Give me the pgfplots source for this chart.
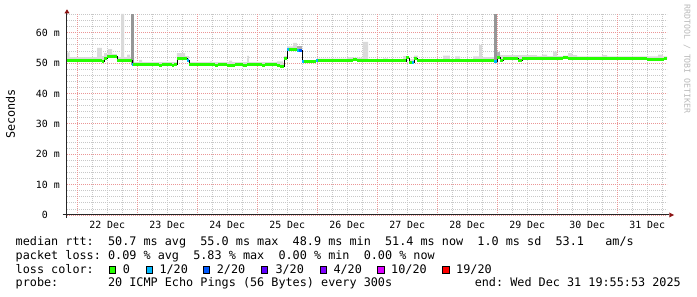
\documentclass[border=0pt]{standalone}
\usepackage{pgfplots}
\pgfplotsset{compat=1.18}
\usepackage{pgfplotstable}
\usepgfplotslibrary{fillbetween}
\usepackage{fontspec}
\setmainfont{DejaVu Sans Mono}
\newcommand\lf{\fontsize{11.8pt}{13pt}\selectfont}
\newcommand\tf{\fontsize{9.9pt}{11pt}\selectfont}
\newcommand\wf{\fontsize{8.25pt}{9pt}\selectfont}
\definecolor{lgreen}{HTML}{26FF00}
\definecolor{l1}{HTML}{00B8FF}
\definecolor{l2}{HTML}{0059FF}
\definecolor{l3}{HTML}{5E00FF}
\definecolor{l4}{HTML}{7E00FF}
\definecolor{l10}{HTML}{DD00FF}
\definecolor{l19}{HTML}{FF0000}
\definecolor{smoke}{RGB}{218,218,218}
\definecolor{msmoke}{RGB}{175,175,175}
\definecolor{dsmoke}{RGB}{150,150,150}
\definecolor{gridc}{RGB}{200,200,200}
\definecolor{mgridc}{RGB}{235,150,150}
\definecolor{arrowred}{RGB}{140,20,20}
\definecolor{wmark}{RGB}{185,185,185}

\pgfplotstableread{
x y
-0.170 50.9
0.413 50.6
0.447 51.4
0.497 52.1
0.663 51.0
0.913 49.6
0.930 49.5
1.363 49.2
1.413 49.5
1.580 49.2
1.613 49.5
1.663 51.5
1.830 51.0
1.863 49.5
2.297 49.2
2.347 49.5
2.497 49.3
2.630 49.5
2.763 49.2
2.830 49.5
3.080 49.3
3.130 49.5
3.330 49.1
3.380 48.9
3.447 51.5
3.497 54.6
3.530 54.5
3.663 54.2
3.747 50.5
3.780 50.5
3.980 50.9
4.013 50.8
4.597 51.3
4.663 50.7
5.480 51.7
5.530 50.3
5.580 50.3
5.613 51.5
5.663 50.7
6.947 50.5
6.997 52.0
7.047 50.9
7.097 51.4
7.347 50.8
7.413 51.5
8.097 51.7
8.180 51.4
9.000 51.5
9.500 51.3
9.780 51.4
9.830 51.4
}\median

\pgfplotstableread{
x y
-0.170 53.5
-0.128 52.0
0.330 55.0
0.413 52.3
0.447 53.3
0.497 52.8
0.513 54.6
0.580 53.0
0.663 52.0
0.730 66.2
0.780 52.0
0.830 52.8
0.880 52.0
0.947 50.3
1.030 51.1
1.080 50.3
1.663 53.3
1.797 52.3
1.863 50.3
2.213 50.6
2.247 50.3
2.530 50.8
2.580 50.3
2.830 52.4
2.863 50.3
3.330 50.6
3.430 49.8
3.447 52.3
3.497 55.5
3.597 56.7
3.663 55.6
3.747 51.0
3.997 51.5
4.513 52.0
4.597 51.8
4.763 57.0
4.847 51.3
5.097 51.6
5.180 51.3
5.430 52.3
5.530 51.3
5.613 52.5
5.680 51.3
6.097 52.5
6.213 51.3
6.297 52.2
6.380 51.3
6.597 52.2
6.697 56.0
6.747 52.0
6.947 53.5
6.997 53.5
7.047 52.6
7.663 52.4
7.747 52.8
7.830 52.3
7.930 53.8
7.997 52.3
8.097 52.5
8.180 53.3
8.247 52.6
8.330 52.2
8.747 52.6
8.830 52.2
9.680 52.8
9.763 52.2
9.830 52.2
}\smoketop

\begin{document}
\begin{tikzpicture}
\begin{axis}[
  at={(0pt,0pt)}, anchor=south west,
  scale only axis, width=600pt, height=202pt,
  xmin=-0.170, xmax=9.830, ymin=0, ymax=66.5,
  axis line style={draw=none},
  major tick length=0pt, minor tick length=0pt,
  tick label style={font=\tf},
  xtick={0.5,1.5,2.5,3.5,4.5,5.5,6.5,7.5,8.5,9.5},
  xticklabels={22 Dec,23 Dec,24 Dec,25 Dec,26 Dec,27 Dec,28 Dec,29 Dec,30 Dec,31 Dec},
  minor xtick={0.25,0.5,0.75,1.25,1.5,1.75,2.25,2.5,2.75,3.25,3.5,3.75,4.25,4.5,4.75,5.25,5.5,5.75,6.25,6.5,6.75,7.25,7.5,7.75,8.25,8.5,8.75,9.25,9.5,9.75},
  extra x ticks={0,1,2,3,4,5,6,7,8,9},
  extra x tick labels={},
  extra x tick style={grid=major},
  xmajorgrids=false, xminorgrids=true,
  ytick={0,10,20,30,40,50,60},
  yticklabels={0\hphantom{mm},10 m,20 m,30 m,40 m,50 m,60 m},
  minor ytick={2,4,6,8,12,14,16,18,22,24,26,28,32,34,36,38,42,44,46,48,52,54,56,58,62,64,66},
  ymajorgrids=true, yminorgrids=true,
  major grid style={color=mgridc, dash pattern=on 1pt off 1pt, line width=0.8pt},
  minor grid style={color=gridc, dash pattern=on 1pt off 1pt, line width=0.8pt},
  xticklabel style={anchor=base, inner sep=0pt, yshift=-13.3pt},
  yticklabel style={anchor=east, inner sep=0pt, xshift=-7pt},
]
\addplot[name path=smk, draw=none, const plot, forget plot] table[x=x,y=y] {\smoketop};
\addplot[name path=med, draw=none, const plot, forget plot] table[x=x,y=y] {\median};
\addplot[fill=smoke, draw=none, forget plot] fill between[of=smk and med];
% dense smoke
\addplot[fill=dsmoke, draw=none, forget plot] coordinates {(0.897,49.5) (0.897,66.2) (0.947,66.2) (0.947,49.5)} -- cycle;
\addplot[fill=dsmoke, draw=none, forget plot] coordinates {(6.947,50.5) (6.947,66.2) (6.997,66.2) (6.997,50.5)} -- cycle;
\addplot[fill=msmoke, draw=none, forget plot] coordinates {(3.663,54.2) (3.663,55.5) (3.747,55.5) (3.747,54.2)} -- cycle;
\addplot[fill=msmoke, draw=none, forget plot] coordinates {(6.997,52.0) (6.997,53.6) (7.047,53.6) (7.047,52.0)} -- cycle;
% median
\addplot[black, line width=0.8pt, const plot, forget plot] table[x=x,y=y] {\median};
\addplot[lgreen, line width=3pt, jump mark left, forget plot] table[x=x,y=y] {\median};
% loss-coloured median steps
\addplot[l1, line width=3pt, forget plot] coordinates {(0.913,49.6) (0.930,49.6)};
\addplot[l1, line width=3pt, forget plot] coordinates {(1.830,51.0) (1.863,51.0)};
\addplot[l1, line width=3pt, forget plot] coordinates {(3.497,54.6) (3.530,54.6)};
\addplot[l1, line width=3pt, forget plot] coordinates {(3.663,54.2) (3.700,54.2)};
\addplot[l2, line width=3pt, forget plot] coordinates {(3.700,54.2) (3.747,54.2)};
\addplot[l1, line width=3pt, forget plot] coordinates {(3.747,50.5) (3.780,50.5)};
\addplot[l1, line width=3pt, forget plot] coordinates {(3.980,50.9) (4.013,50.9)};
\addplot[l1, line width=3pt, forget plot] coordinates {(5.580,50.3) (5.613,50.3)};
\addplot[l1, line width=3pt, forget plot] coordinates {(6.947,50.5) (6.997,50.5)};
\end{axis}
% axis lines and arrows
\draw[black!85, line width=1pt] (0pt,-3pt) -- (0pt,201.7pt);
\fill[arrowred] (-2.5pt,201.7pt) -- (2.5pt,201.7pt) -- (0pt,205.7pt) -- cycle;
\draw[black!85, line width=1pt] (-4.3pt,0pt) -- (602.3pt,0pt);
\fill[arrowred] (602.3pt,2.5pt) -- (602.3pt,-2.5pt) -- (607pt,0pt) -- cycle;
% labels
\node[rotate=90, font=\lf, inner sep=0pt] at (-56.5pt,101pt) {Seconds};
\node[rotate=-90, font=\wf, text=wmark, inner sep=0pt] at (620pt,156pt) {RRDTOOL / TOBI OETIKER};
% legend row 1
\node[anchor=base west, inner sep=0pt, font=\lf] at (-51.5pt,-30.5pt) {median~rtt:~~50.7~ms~avg~~55.0~ms~max~~48.9~ms~min~~51.4~ms~now~~1.0~ms~sd~~53.1~~~am/s};
% row 2
\node[anchor=base west, inner sep=0pt, font=\lf] at (-51.5pt,-44.3pt) {packet~loss:~0.09~\%~avg~~5.83~\%~max~~0.00~\%~min~~0.00~\%~now};
% row 3
\node[anchor=base west, inner sep=0pt, font=\lf] at (-51.5pt,-58.2pt) {loss~color:};
\foreach \sx/\col in {42/lgreen,79/l1,136.3/l2,194/l3,253/l4,310.7/l10,375.7/l19}{
  \filldraw[fill=\col, draw=black, line width=0.8pt] (\sx pt,-58.2pt) rectangle ++(6.4pt,6.4pt);
}
\node[anchor=base west, inner sep=0pt, font=\lf] at (55.6pt,-58.2pt) {0};
\node[anchor=base west, inner sep=0pt, font=\lf] at (92.3pt,-58.2pt) {1/20};
\node[anchor=base west, inner sep=0pt, font=\lf] at (149.6pt,-58.2pt) {2/20};
\node[anchor=base west, inner sep=0pt, font=\lf] at (208.3pt,-58.2pt) {3/20};
\node[anchor=base west, inner sep=0pt, font=\lf] at (266.3pt,-58.2pt) {4/20};
\node[anchor=base west, inner sep=0pt, font=\lf] at (324.0pt,-58.2pt) {10/20};
\node[anchor=base west, inner sep=0pt, font=\lf] at (389.0pt,-58.2pt) {19/20};
% row 4
\node[anchor=base west, inner sep=0pt, font=\lf] at (-51.5pt,-71.6pt) {probe:~~~~~~~20~ICMP~Echo~Pings~(56~Bytes)~every~300s};
\node[anchor=base east, inner sep=0pt, font=\lf] at (614pt,-71.6pt) {end:~Wed~Dec~31~19:55:53~2025};
\pgfresetboundingbox
\path[use as bounding box] (-67pt,-82pt) rectangle (630pt,215pt);
\end{tikzpicture}
\end{document}
